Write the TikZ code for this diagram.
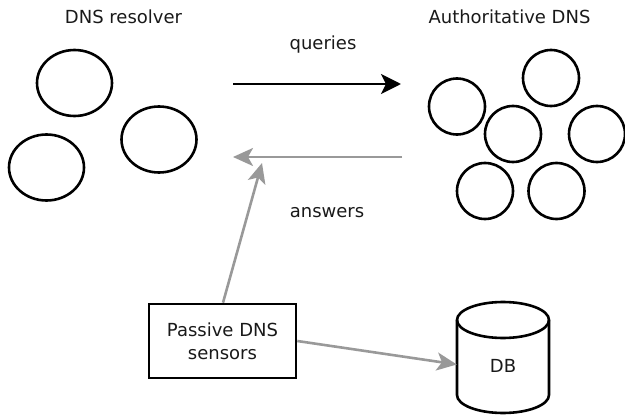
\documentclass[tikz,border=0pt]{standalone}
\usepackage{fontspec}
\setmainfont{DejaVu Sans}
\usetikzlibrary{shapes.geometric,arrows.meta}
\definecolor{arrgray}{HTML}{999999}
\begin{document}
\begin{tikzpicture}[x=1pt,y=-1pt,
  lbl/.style={font=\fontsize{18}{22}\selectfont, inner sep=0pt, text=black!90},
  rcirc/.style={draw, ellipse, line width=2.6pt, inner sep=0pt, minimum width=75, minimum height=66},
  acirc/.style={draw, circle, line width=2.6pt, inner sep=0pt, minimum size=56},
  blackarrow/.style={line width=2.6pt, -{Stealth[length=20pt,width=20pt,inset=5pt]}},
  grayarrow/.style={draw=arrgray, line width=2.6pt, -{Stealth[length=20pt,width=18pt,inset=5pt]}, color=arrgray},
  sensor/.style={draw, line width=2.6pt, minimum width=147, minimum height=74, inner sep=0pt, align=center, font=\fontsize{18}{23}\selectfont, text=black!90}
]
\useasboundingbox (0,0) rectangle (625,415);
% titles
\node[lbl] (tres) at (123.5,17) {DNS resolver};
\node[lbl] (tauth) at (509.5,17) {Authoritative DNS};
\node[lbl] (lq) at (323,45) {queries};
\node[lbl] (la) at (327,213) {answers};
% resolver circles
\node[rcirc] (r1) at (74.5,83) {};
\node[rcirc] (r2) at (159,139.5) {};
\node[rcirc] (r3) at (46.5,167.5) {};
% authoritative circles
\node[acirc] (a1) at (457,106.5) {};
\node[acirc] (a2) at (551,78) {};
\node[acirc] (a3) at (513,134) {};
\node[acirc] (a4) at (597,134) {};
\node[acirc] (a5) at (485,191) {};
\node[acirc] (a6) at (556.5,191) {};
% arrow ends
\coordinate (qs) at (233,84);
\coordinate (qe) at (401,84);
\coordinate (as) at (402,157);
\coordinate (ae) at (233,157);
\coordinate (ve) at (262,163);
% sensor box
\node[sensor] (box) at (222.5,341) {Passive DNS\\sensors};
% DB cylinder
\node[inner sep=0pt, minimum width=92, minimum height=111] (db) at (503,357.5) {};
\draw[line width=2.6pt, line join=round] (457,320) arc[start angle=180, end angle=360, x radius=46, y radius=18]
  -- (549,395) arc[start angle=0, end angle=180, x radius=46, y radius=18] -- cycle;
\draw[line width=2.6pt] (457,320) arc[start angle=180, end angle=0, x radius=46, y radius=18];
\node[lbl] (dbl) at (503,366) {DB};
% arrows
\draw[blackarrow] (qs) -- (qe);
\draw[grayarrow] (as) -- (ae);
\draw[grayarrow] (box.north) ++(0.5,0) -- (ve);
\draw[grayarrow] (box.east) -- ([yshift=-7pt]db.west);
\end{tikzpicture}
\end{document}
